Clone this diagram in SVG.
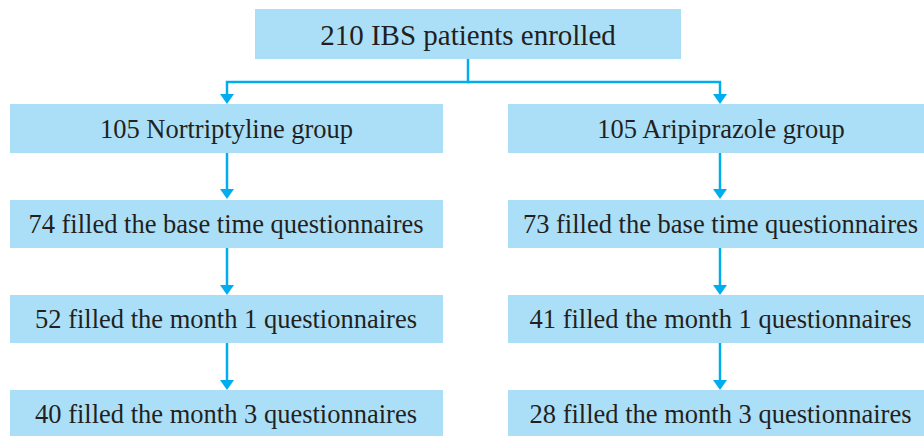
<svg xmlns="http://www.w3.org/2000/svg" width="924" height="436" viewBox="0 0 924 436">
  <style>
    .box { fill: #ABDFF8; }
    .t { font-family: 'Liberation Serif', 'DejaVu Serif', serif; fill: #231F20; text-anchor: middle; }
    .lg { font-size: 29px; }
    .sm { font-size: 26.5px; }
    .c { fill: none; stroke: #00AEEF; stroke-width: 2.5; }
  </style>
  <defs>
    <marker id="ah" markerUnits="userSpaceOnUse" markerWidth="10" markerHeight="14" viewBox="0 0 10 14" refX="0" refY="7" orient="auto">
      <path d="M0,0 L10,7 L0,14 Z" fill="#00AEEF"/>
    </marker>
  </defs>
  <rect width="924" height="436" fill="#FFFFFF"/>

  <g id="n0">
    <rect class="box" x="255" y="9" width="426" height="50"/>
    <text class="t lg" x="468" y="44.5" font-family="Liberation Serif">210 IBS patients enrolled</text>
  </g>
  <g id="nL1">
    <rect class="box" x="10" y="104" width="433" height="49"/>
    <text class="t sm" x="226.5" y="138">105 Nortriptyline group</text>
  </g>
  <g id="nR1">
    <rect class="box" x="508" y="104" width="424" height="49"/>
    <text class="t sm" x="721" y="138">105 Aripiprazole group</text>
  </g>
  <g id="nL2">
    <rect class="box" x="10" y="200" width="433" height="48"/>
    <text class="t sm" x="226" y="233">74 filled the base time questionnaires</text>
  </g>
  <g id="nR2">
    <rect class="box" x="508" y="200" width="424" height="48"/>
    <text class="t sm" x="720.5" y="233">73 filled the base time questionnaires</text>
  </g>
  <g id="nL3">
    <rect class="box" x="10" y="295" width="433" height="48"/>
    <text class="t sm" x="226" y="328">52 filled the month 1 questionnaires</text>
  </g>
  <g id="nR3">
    <rect class="box" x="508" y="295" width="424" height="48"/>
    <text class="t sm" x="720.5" y="328">41 filled the month 1 questionnaires</text>
  </g>
  <g id="nL4">
    <rect class="box" x="10" y="390" width="433" height="46"/>
    <text class="t sm" x="226" y="423">40 filled the month 3 questionnaires</text>
  </g>
  <g id="nR4">
    <rect class="box" x="508" y="390" width="424" height="46"/>
    <text class="t sm" x="720.5" y="423">28 filled the month 3 questionnaires</text>
  </g>

  <g id="connectors">
    <path class="c" d="M468,59 V82 H227 V94" marker-end="url(#ah)"/>
    <path class="c" d="M468,82 H720 V94" marker-end="url(#ah)"/>
    <path class="c" d="M227,153 V189" marker-end="url(#ah)"/>
    <path class="c" d="M227,248 V285" marker-end="url(#ah)"/>
    <path class="c" d="M227,343 V380" marker-end="url(#ah)"/>
    <path class="c" d="M720,153 V189" marker-end="url(#ah)"/>
    <path class="c" d="M720,248 V285" marker-end="url(#ah)"/>
    <path class="c" d="M720,343 V380" marker-end="url(#ah)"/>
  </g>
</svg>
